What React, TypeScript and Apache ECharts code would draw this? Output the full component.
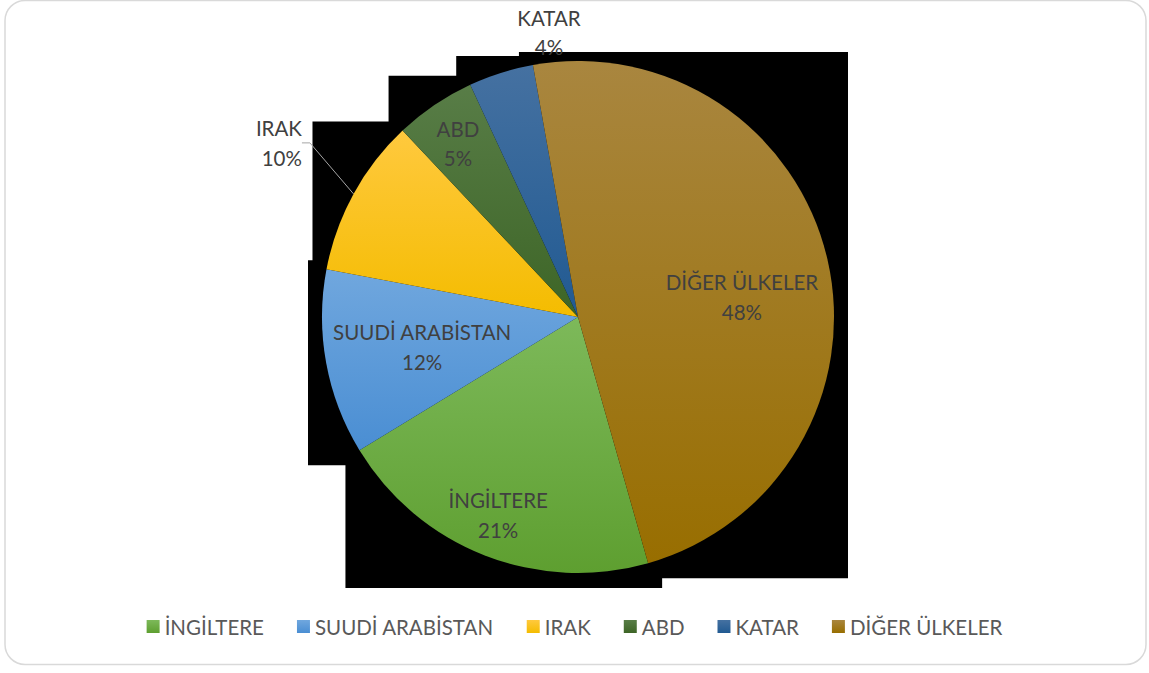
import React, { useEffect, useRef } from "react";
import * as echarts from "echarts";

// ---- data ----
const CATEGORIES = ["İNGİLTERE", "SUUDİ ARABİSTAN", "IRAK", "ABD", "KATAR", "DİĞER ÜLKELER"];
const VALUES = [20.7, 11.7, 10.0, 5.1, 4.1, 48.4];

// ---- styles ----
const COLOR_TOP = ["#7DB95A", "#70A7DE", "#FFC93E", "#587D47", "#4571A1", "#A9863F"];
const COLOR_BOTTOM = ["#5E9F30", "#4A8ED3", "#F4BC00", "#3D6526", "#215A92", "#986E00"];

// label placement relative to each slice: radius fraction, angle shift (deg), alignment
const LABEL_PLACE = [
  { f: 0.834, da: 0.6, align: "center" },
  { f: 0.62, da: -0.6, align: "center" },
  { f: 1.275, da: 3.5, align: "right" },
  { f: 0.824, da: -0.6, align: "center" },
  { f: 1.117, da: 11.7, align: "center" },
  { f: 0.645, da: 6, align: "center" },
];

const W = 1149;
const H = 673;
const CX = 578;
const CY = 317;
const R = 256;
const START = 164.1; // degrees clockwise from 12 o'clock
const SHADOW = { l: 14, t: 9, r: 14, b: 15 };
const FONT = "Lato, 'Open Sans', sans-serif";
const FS = 20.5;

function pt(theta: number, rad: number) {
  const a = (theta * Math.PI) / 180;
  return [CX + rad * Math.sin(a), CY - rad * Math.cos(a)];
}

function sliceAngles() {
  const total = VALUES.reduce((s, v) => s + v, 0);
  let acc = START;
  return VALUES.map((v) => {
    const a0 = acc;
    const a1 = acc + (v / total) * 360;
    acc = a1;
    return [a0, a1, (a0 + a1) / 2];
  });
}

function sliceBox(a0: number, a1: number) {
  const pts: number[][] = [[CX, CY], pt(a0, R), pt(a1, R)];
  for (let k = Math.ceil(a0 / 90) * 90; k < a1; k += 90) pts.push(pt(k, R));
  const xs = pts.map((p) => p[0]);
  const ys = pts.map((p) => p[1]);
  return {
    x: Math.min(...xs),
    y: Math.min(...ys),
    x2: Math.max(...xs),
    y2: Math.max(...ys),
  };
}

export default function App() {
  const ref = useRef<HTMLDivElement>(null);

  useEffect(() => {
    if (!ref.current) return;
    const chart = echarts.init(ref.current, undefined, { renderer: "svg" });
    const angles = sliceAngles();

    const blackRects = angles.map(([a0, a1]) => {
      const b = sliceBox(a0, a1);
      return {
        type: "rect",
        z: 0,
        shape: {
          x: b.x - SHADOW.l,
          y: b.y - SHADOW.t,
          width: b.x2 - b.x + SHADOW.l + SHADOW.r,
          height: b.y2 - b.y + SHADOW.t + SHADOW.b,
        },
        style: { fill: "#000" },
        silent: true,
      };
    });

    const data = CATEGORIES.map((name, i) => ({
      name,
      value: VALUES[i],
      itemStyle: {
        color: new echarts.graphic.LinearGradient(0, 0, 0, 1, [
          { offset: 0, color: COLOR_TOP[i] },
          { offset: 1, color: COLOR_BOTTOM[i] },
        ]),
      },
      labelLine: { show: i === 2 },
    }));

    chart.setOption({
      animation: false,
      backgroundColor: "#ffffff",
      graphic: [
        {
          type: "rect",
          z: 0,
          shape: { x: 5, y: 0.5, width: 1141, height: 664, r: 20 },
          style: { fill: "#ffffff", stroke: "#D9D9D9", lineWidth: 1.5 },
          silent: true,
        },
        ...blackRects,
      ],
      legend: {
        bottom: 31,
        left: "center",
        icon: "rect",
        itemWidth: 13,
        itemHeight: 13,
        itemGap: 33,
        textStyle: { fontSize: FS, color: "#595959", fontFamily: FONT },
        data: CATEGORIES,
      },
      series: [
        {
          type: "pie",
          center: [CX, CY],
          radius: R,
          startAngle: 90 - START,
          clockwise: true,
          avoidLabelOverlap: false,
          emphasis: { disabled: true },
          data,
          label: {
            show: true,
            position: "outside",
            formatter: (p: any) => `${p.name}\n${Math.round(p.percent)}%`,
            fontSize: FS,
            lineHeight: 29.5,
            color: "#404040",
            fontFamily: FONT,
            align: "center",
          },
          labelLine: {
            show: false,
            length: 20,
            length2: 8,
            lineStyle: { color: "#A6A6A6", width: 1 },
          },
          labelLayout: (params: any) => {
            const i = params.dataIndex;
            const pl = LABEL_PLACE[i];
            const p = pt(angles[i][2] + pl.da, R * pl.f);
            return {
              x: p[0],
              y: p[1],
              align: pl.align,
              verticalAlign: "middle",
            };
          },
        },
      ],
    });

    return () => chart.dispose();
  }, []);

  return (
    <div
      ref={ref}
      style={{ position: "fixed", left: 0, top: 0, width: W, height: H, background: "#fff" }}
    />
  );
}
